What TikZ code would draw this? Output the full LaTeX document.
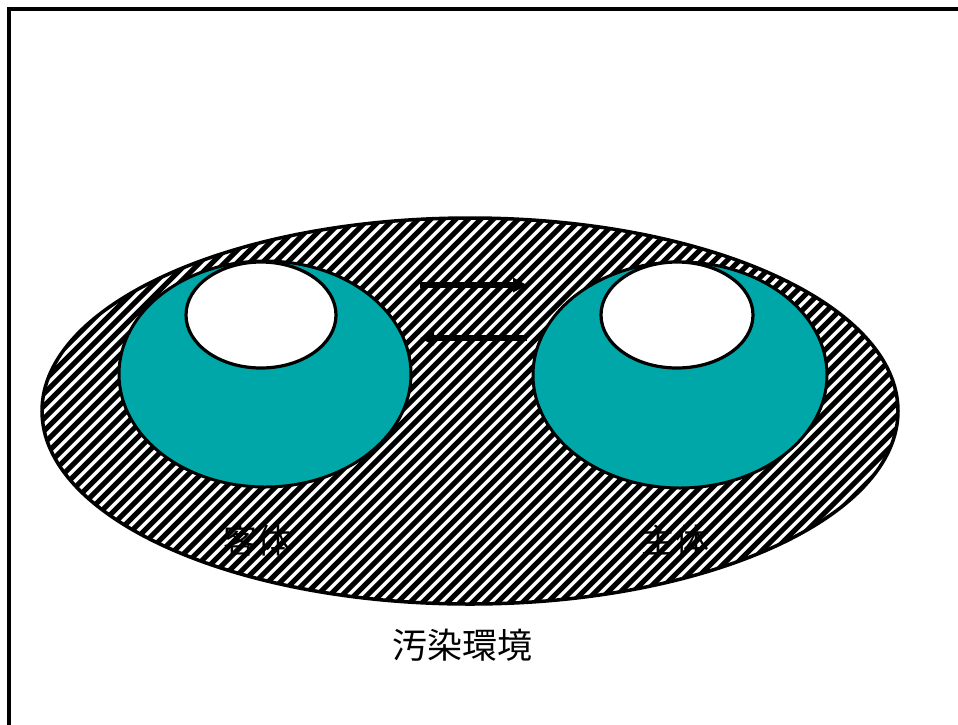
\documentclass[tikz,border=0pt]{standalone}
\usepackage{fontspec}
\newfontfamily\cjk{Noto Sans CJK JP}
\usetikzlibrary{arrows.meta}
\definecolor{tealfill}{HTML}{00A7A8}
\tikzset{
  frameline/.style={line width=3.5pt, line cap=rect},
  cupfill/.style={fill=tealfill, draw=black, line width=3pt},
  holefill/.style={fill=white, draw=black, line width=3.2pt},
  flowarrow/.style={line width=6pt, -{Triangle[length=14pt,width=14pt]}},
  lbl/.style={font=\cjk\fontsize{34}{40}\selectfont, text=black, inner sep=0pt},
  envlbl/.style={font=\cjk\fontsize{35}{42}\selectfont, text=black, inner sep=0pt}
}
\begin{document}
\begin{tikzpicture}[x=1pt,y=-1pt]
\useasboundingbox (0,0) rectangle (958,724);
\fill[white] (0,0) rectangle (958,724);
% frame
\coordinate (fbl) at (9,730);
\coordinate (ftl) at (9,9);
\coordinate (ftr) at (965,9);
\draw[frameline] (fbl) -- (ftl) -- (ftr);
% hatched environment ellipse
\coordinate (env) at (470,411);
\begin{scope}
  \clip (env) ellipse [x radius=428, y radius=193];
  \fill[white] (env) ellipse [x radius=428, y radius=193];
  \foreach \i in {-30,...,110} {
    \draw[line width=5pt] ({\i*12.5-250},650) -- ({\i*12.5+250},150);
  }
\end{scope}
\draw[line width=3.5pt] (env) ellipse [x radius=428, y radius=193];
% left object
\coordinate (lc) at (265,374);
\coordinate (lh) at (261,315);
\draw[cupfill] (lc) ellipse [x radius=146, y radius=113];
\draw[holefill] (lh) ellipse [x radius=75, y radius=53];
% right object
\coordinate (rc) at (680,375);
\coordinate (rh) at (677,315);
\draw[cupfill] (rc) ellipse [x radius=147, y radius=113];
\draw[holefill] (rh) ellipse [x radius=76, y radius=53];
% arrows
\coordinate (a1s) at (420,285);
\coordinate (a1e) at (527,285);
\coordinate (a2s) at (527,338);
\coordinate (a2e) at (420,338);
\draw[flowarrow] (a1s) -- (a1e);
\draw[flowarrow] (a2s) -- (a2e);
% labels
\node[lbl] (obj) at (257,541) {客体};
\node[lbl] (subj) at (675,541) {主体};
\node[envlbl] (envtxt) at (462,645) {汚染環境};
\end{tikzpicture}
\end{document}
